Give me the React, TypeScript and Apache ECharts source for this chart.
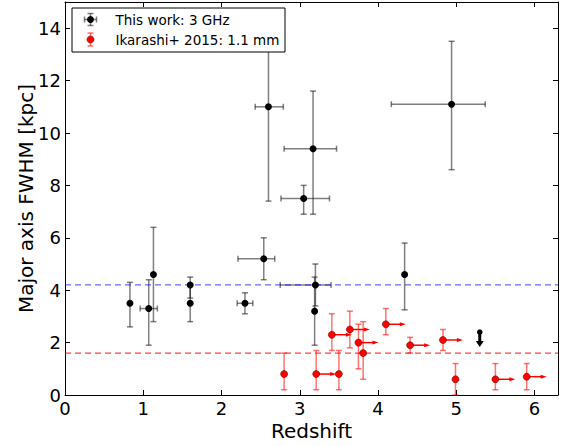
import React, { useEffect, useRef } from "react";
import * as echarts from "echarts";

// ---- data ----
// black points: [x, y, xMinus, xPlus, yMinus, yPlus]
const blackPoints: number[][] = [
  [0.83, 3.5, 0, 0, 0.9, 0.8],
  [1.07, 3.3, 0.11, 0.11, 1.4, 1.1],
  [1.13, 4.6, 0, 0, 1.8, 1.8],
  [1.6, 4.2, 0, 0, 0.5, 0.3],
  [1.6, 3.5, 0, 0, 0.7, 0.7],
  [2.3, 3.5, 0.1, 0.1, 0.4, 0.4],
  [2.54, 5.2, 0.33, 0.14, 0.8, 0.8],
  [3.2, 4.2, 0.45, 0.2, 0.8, 0.8],
  [3.19, 3.2, 0, 0, 1.3, 1.3],
  [4.34, 4.6, 0, 0, 1.35, 1.2],
  [2.6, 11.0, 0.17, 0.19, 3.6, 3.6],
  [3.17, 9.4, 0.37, 0.3, 2.5, 2.2],
  [3.05, 7.5, 0.29, 0.33, 0.6, 0.5],
  [4.94, 11.1, 0.77, 0.43, 2.5, 2.4],
];
// black upper limit: [x, y]
const blackUpperLimits: number[][] = [[5.3, 2.4]];

// red points: [x, y, yMinus, yPlus]
const redPoints: number[][] = [
  [2.8, 0.8, 0.6, 0.8],
  [3.21, 0.8, 0.6, 0.9],
  [3.5, 0.8, 0.6, 0.9],
  [3.41, 2.3, 0.6, 0.8],
  [3.64, 2.5, 0.7, 0.7],
  [3.75, 2.0, 1.0, 0.7],
  [3.81, 1.6, 1.0, 1.2],
  [4.1, 2.7, 0.4, 0.6],
  [4.41, 1.9, 0.3, 0.3],
  [4.83, 2.1, 0.4, 0.4],
  [4.99, 0.6, 0.6, 0.6],
  [5.5, 0.6, 0.4, 0.6],
  [5.9, 0.7, 0.5, 0.5],
];
// 1 = lower limit in redshift (arrow to the right)
const redLowerLimitFlags: number[] = [0, 1, 0, 1, 1, 1, 0, 1, 1, 1, 0, 1, 1];

const blueLineY = 4.2;
const redLineY = 1.6;

const xRange = [0, 6.3];
const yRange = [0, 15];
const xInterval = 1;
const yInterval = 2;

const legendLabels = ["This work: 3 GHz", "Ikarashi+ 2015: 1.1 mm"];

const FONT = "DejaVu Sans";
const BLACK_ERR = "rgba(0,0,0,0.5)";
const RED_ERR = "rgba(255,0,0,0.55)";

function errorBarRender(color: string) {
  return (params: any, api: any) => {
    const x = api.value(0);
    const y = api.value(1);
    const xm = api.value(2);
    const xp = api.value(3);
    const ym = api.value(4);
    const yp = api.value(5);
    const c = api.coord([x, y]);
    const style = { stroke: color, lineWidth: 1.5 };
    const cap = 3;
    const children: any[] = [];
    if (ym || yp) {
      const top = api.coord([x, y + yp]);
      const bot = api.coord([x, y - ym]);
      children.push({ type: "line", shape: { x1: c[0], y1: top[1], x2: c[0], y2: bot[1] }, style });
      children.push({ type: "line", shape: { x1: c[0] - cap, y1: top[1], x2: c[0] + cap, y2: top[1] }, style });
      children.push({ type: "line", shape: { x1: c[0] - cap, y1: bot[1], x2: c[0] + cap, y2: bot[1] }, style });
    }
    if (xm || xp) {
      const l = api.coord([x - xm, y]);
      const r = api.coord([x + xp, y]);
      children.push({ type: "line", shape: { x1: l[0], y1: c[1], x2: r[0], y2: c[1] }, style });
      children.push({ type: "line", shape: { x1: l[0], y1: c[1] - cap, x2: l[0], y2: c[1] + cap }, style });
      children.push({ type: "line", shape: { x1: r[0], y1: c[1] - cap, x2: r[0], y2: c[1] + cap }, style });
    }
    return { type: "group", children };
  };
}

function rightArrowRender(params: any, api: any) {
  const c = api.coord([api.value(0), api.value(1)]);
  const len = 20;
  return {
    type: "group",
    children: [
      { type: "line", shape: { x1: c[0], y1: c[1], x2: c[0] + len - 4, y2: c[1] }, style: { stroke: "#ff0000", lineWidth: 1.5 } },
      {
        type: "polygon",
        shape: { points: [[c[0] + len - 6, c[1] - 2], [c[0] + len, c[1]], [c[0] + len - 6, c[1] + 2]] },
        style: { fill: "#ff0000" },
      },
    ],
  };
}

function downArrowRender(params: any, api: any) {
  const c = api.coord([api.value(0), api.value(1)]);
  return {
    type: "group",
    children: [
      { type: "circle", shape: { cx: c[0], cy: c[1], r: 2.8 }, style: { fill: "#000" } },
      { type: "line", shape: { x1: c[0], y1: c[1], x2: c[0], y2: c[1] + 10 }, style: { stroke: "#000", lineWidth: 3 } },
      {
        type: "polygon",
        shape: { points: [[c[0] - 4, c[1] + 9], [c[0] + 4, c[1] + 9], [c[0], c[1] + 15]] },
        style: { fill: "#000" },
      },
    ],
  };
}

function hLineSeries(y: number, color: string) {
  return {
    type: "line",
    data: [
      [xRange[0], y],
      [xRange[1], y],
    ],
    silent: true,
    z: 3,
    symbol: "none",
    showSymbol: false,
    color,
    lineStyle: { color, type: [6, 4], width: 1.2 },
    itemStyle: { color },
    emphasis: { disabled: true },
  };
}

export default function App() {
  const ref = useRef<HTMLDivElement>(null);
  useEffect(() => {
    if (!ref.current) return;
    const chart = echarts.init(ref.current, undefined, { renderer: "svg" });
    const axisCommon = {
      axisLine: { show: true, onZero: false, lineStyle: { color: "#000", width: 1 } },
      axisTick: { show: true, inside: true, length: 5, lineStyle: { color: "#000", width: 1 } },
      splitLine: { show: false },
    };
    const redErrData = redPoints.map((p) => [p[0], p[1], 0, 0, p[2], p[3]]);
    const redArrowData = redPoints.filter((_, i) => redLowerLimitFlags[i] === 1).map((p) => [p[0], p[1]]);
    const Z = 100;
    const legendChildren: any[] = [
      { type: "rect", shape: { x: 0, y: 0, width: 213, height: 44 }, style: { fill: "#fff", stroke: "#000", lineWidth: 1 } },
      { type: "line", shape: { x1: 12.5, y1: 11.5, x2: 24.5, y2: 11.5 }, style: { stroke: BLACK_ERR, lineWidth: 1.5 } },
      { type: "line", shape: { x1: 12.5, y1: 8.5, x2: 12.5, y2: 14.5 }, style: { stroke: BLACK_ERR, lineWidth: 1.5 } },
      { type: "line", shape: { x1: 24.5, y1: 8.5, x2: 24.5, y2: 14.5 }, style: { stroke: BLACK_ERR, lineWidth: 1.5 } },
      { type: "line", shape: { x1: 18.5, y1: 5.5, x2: 18.5, y2: 17.5 }, style: { stroke: BLACK_ERR, lineWidth: 1.5 } },
      { type: "line", shape: { x1: 15.5, y1: 5.5, x2: 21.5, y2: 5.5 }, style: { stroke: BLACK_ERR, lineWidth: 1.5 } },
      { type: "line", shape: { x1: 15.5, y1: 17.5, x2: 21.5, y2: 17.5 }, style: { stroke: BLACK_ERR, lineWidth: 1.5 } },
      { type: "circle", shape: { cx: 18.5, cy: 11.5, r: 3.5 }, style: { fill: "#000" } },
      { type: "line", shape: { x1: 18.5, y1: 25, x2: 18.5, y2: 38 }, style: { stroke: RED_ERR, lineWidth: 1.5 } },
      { type: "line", shape: { x1: 15.5, y1: 25, x2: 21.5, y2: 25 }, style: { stroke: RED_ERR, lineWidth: 1.5 } },
      { type: "line", shape: { x1: 15.5, y1: 38, x2: 21.5, y2: 38 }, style: { stroke: RED_ERR, lineWidth: 1.5 } },
      { type: "circle", shape: { cx: 18.5, cy: 31.5, r: 3.5 }, style: { fill: "#ff0000", stroke: "#800000", lineWidth: 0.6 } },
      {
        type: "text",
        x: 43.5,
        y: 11.5,
        style: { text: legendLabels[0], fontSize: 13.5, fontFamily: FONT, fill: "#000", verticalAlign: "middle", align: "left" },
      },
      {
        type: "text",
        x: 43.5,
        y: 31.5,
        style: { text: legendLabels[1], fontSize: 13.5, fontFamily: FONT, fill: "#000", verticalAlign: "middle", align: "left" },
      },
    ].map((c) => ({ ...c, z: Z }));
    const option: any = {
      animation: false,
      backgroundColor: "#fff",
      textStyle: { fontFamily: FONT },
      grid: { left: 65, right: 5, top: 2, bottom: 51, containLabel: false },
      xAxis: [
        {
          type: "value",
          min: xRange[0],
          max: xRange[1],
          interval: xInterval,
          name: "Redshift",
          nameLocation: "middle",
          nameGap: 26,
          nameMoveOverlap: false,
          nameTextStyle: { fontSize: 20, color: "#000", fontFamily: FONT, lineHeight: 20 },
          axisLabel: { fontSize: 18, color: "#000", fontFamily: FONT, margin: 4, lineHeight: 18, showMaxLabel: false },
          ...axisCommon,
        },
        {
          type: "value",
          position: "top",
          min: xRange[0],
          max: xRange[1],
          interval: xInterval,
          axisLabel: { show: false },
          ...axisCommon,
        },
      ],
      yAxis: [
        {
          type: "value",
          min: yRange[0],
          max: yRange[1],
          interval: yInterval,
          name: "Major axis FWHM [kpc]",
          nameLocation: "middle",
          nameGap: 29,
          nameMoveOverlap: false,
          nameTextStyle: { fontSize: 20, color: "#000", fontFamily: FONT },
          axisLabel: { fontSize: 18, color: "#000", fontFamily: FONT, margin: 4, showMaxLabel: false },
          ...axisCommon,
        },
        {
          type: "value",
          position: "right",
          min: yRange[0],
          max: yRange[1],
          interval: yInterval,
          axisLabel: { show: false },
          ...axisCommon,
        },
      ],
      series: [
        hLineSeries(blueLineY, "rgba(0,0,255,0.6)"),
        hLineSeries(redLineY, "rgba(255,0,0,0.75)"),
        {
          type: "custom",
          renderItem: errorBarRender(BLACK_ERR),
          data: blackPoints,
          encode: { x: 0, y: 1 },
          z: 2,
          silent: true,
        },
        {
          type: "custom",
          renderItem: errorBarRender(RED_ERR),
          data: redErrData,
          encode: { x: 0, y: 1 },
          z: 2,
          silent: true,
        },
        {
          type: "custom",
          renderItem: rightArrowRender,
          data: redArrowData,
          encode: { x: 0, y: 1 },
          z: 3,
          silent: true,
        },
        {
          type: "custom",
          renderItem: downArrowRender,
          data: blackUpperLimits,
          encode: { x: 0, y: 1 },
          z: 4,
          silent: true,
        },
        {
          type: "scatter",
          data: blackPoints.map((p) => [p[0], p[1]]),
          symbol: "circle",
          symbolSize: 7,
          itemStyle: { color: "#000", opacity: 1 },
          z: 5,
          silent: true,
        },
        {
          type: "scatter",
          data: redPoints.map((p) => [p[0], p[1]]),
          symbol: "circle",
          symbolSize: 7,
          itemStyle: { color: "#ff0000", borderColor: "#800000", borderWidth: 0.6, opacity: 1 },
          z: 5,
          silent: true,
        },
      ],
      graphic: [
        {
          type: "group",
          left: 71.5,
          top: 7.5,
          z: Z,
          children: legendChildren,
        },
      ],
    };
    chart.setOption(option);
    return () => chart.dispose();
  }, []);
  return <div ref={ref} style={{ position: "absolute", left: 0, top: 0, width: 563, height: 446 }} />;
}
